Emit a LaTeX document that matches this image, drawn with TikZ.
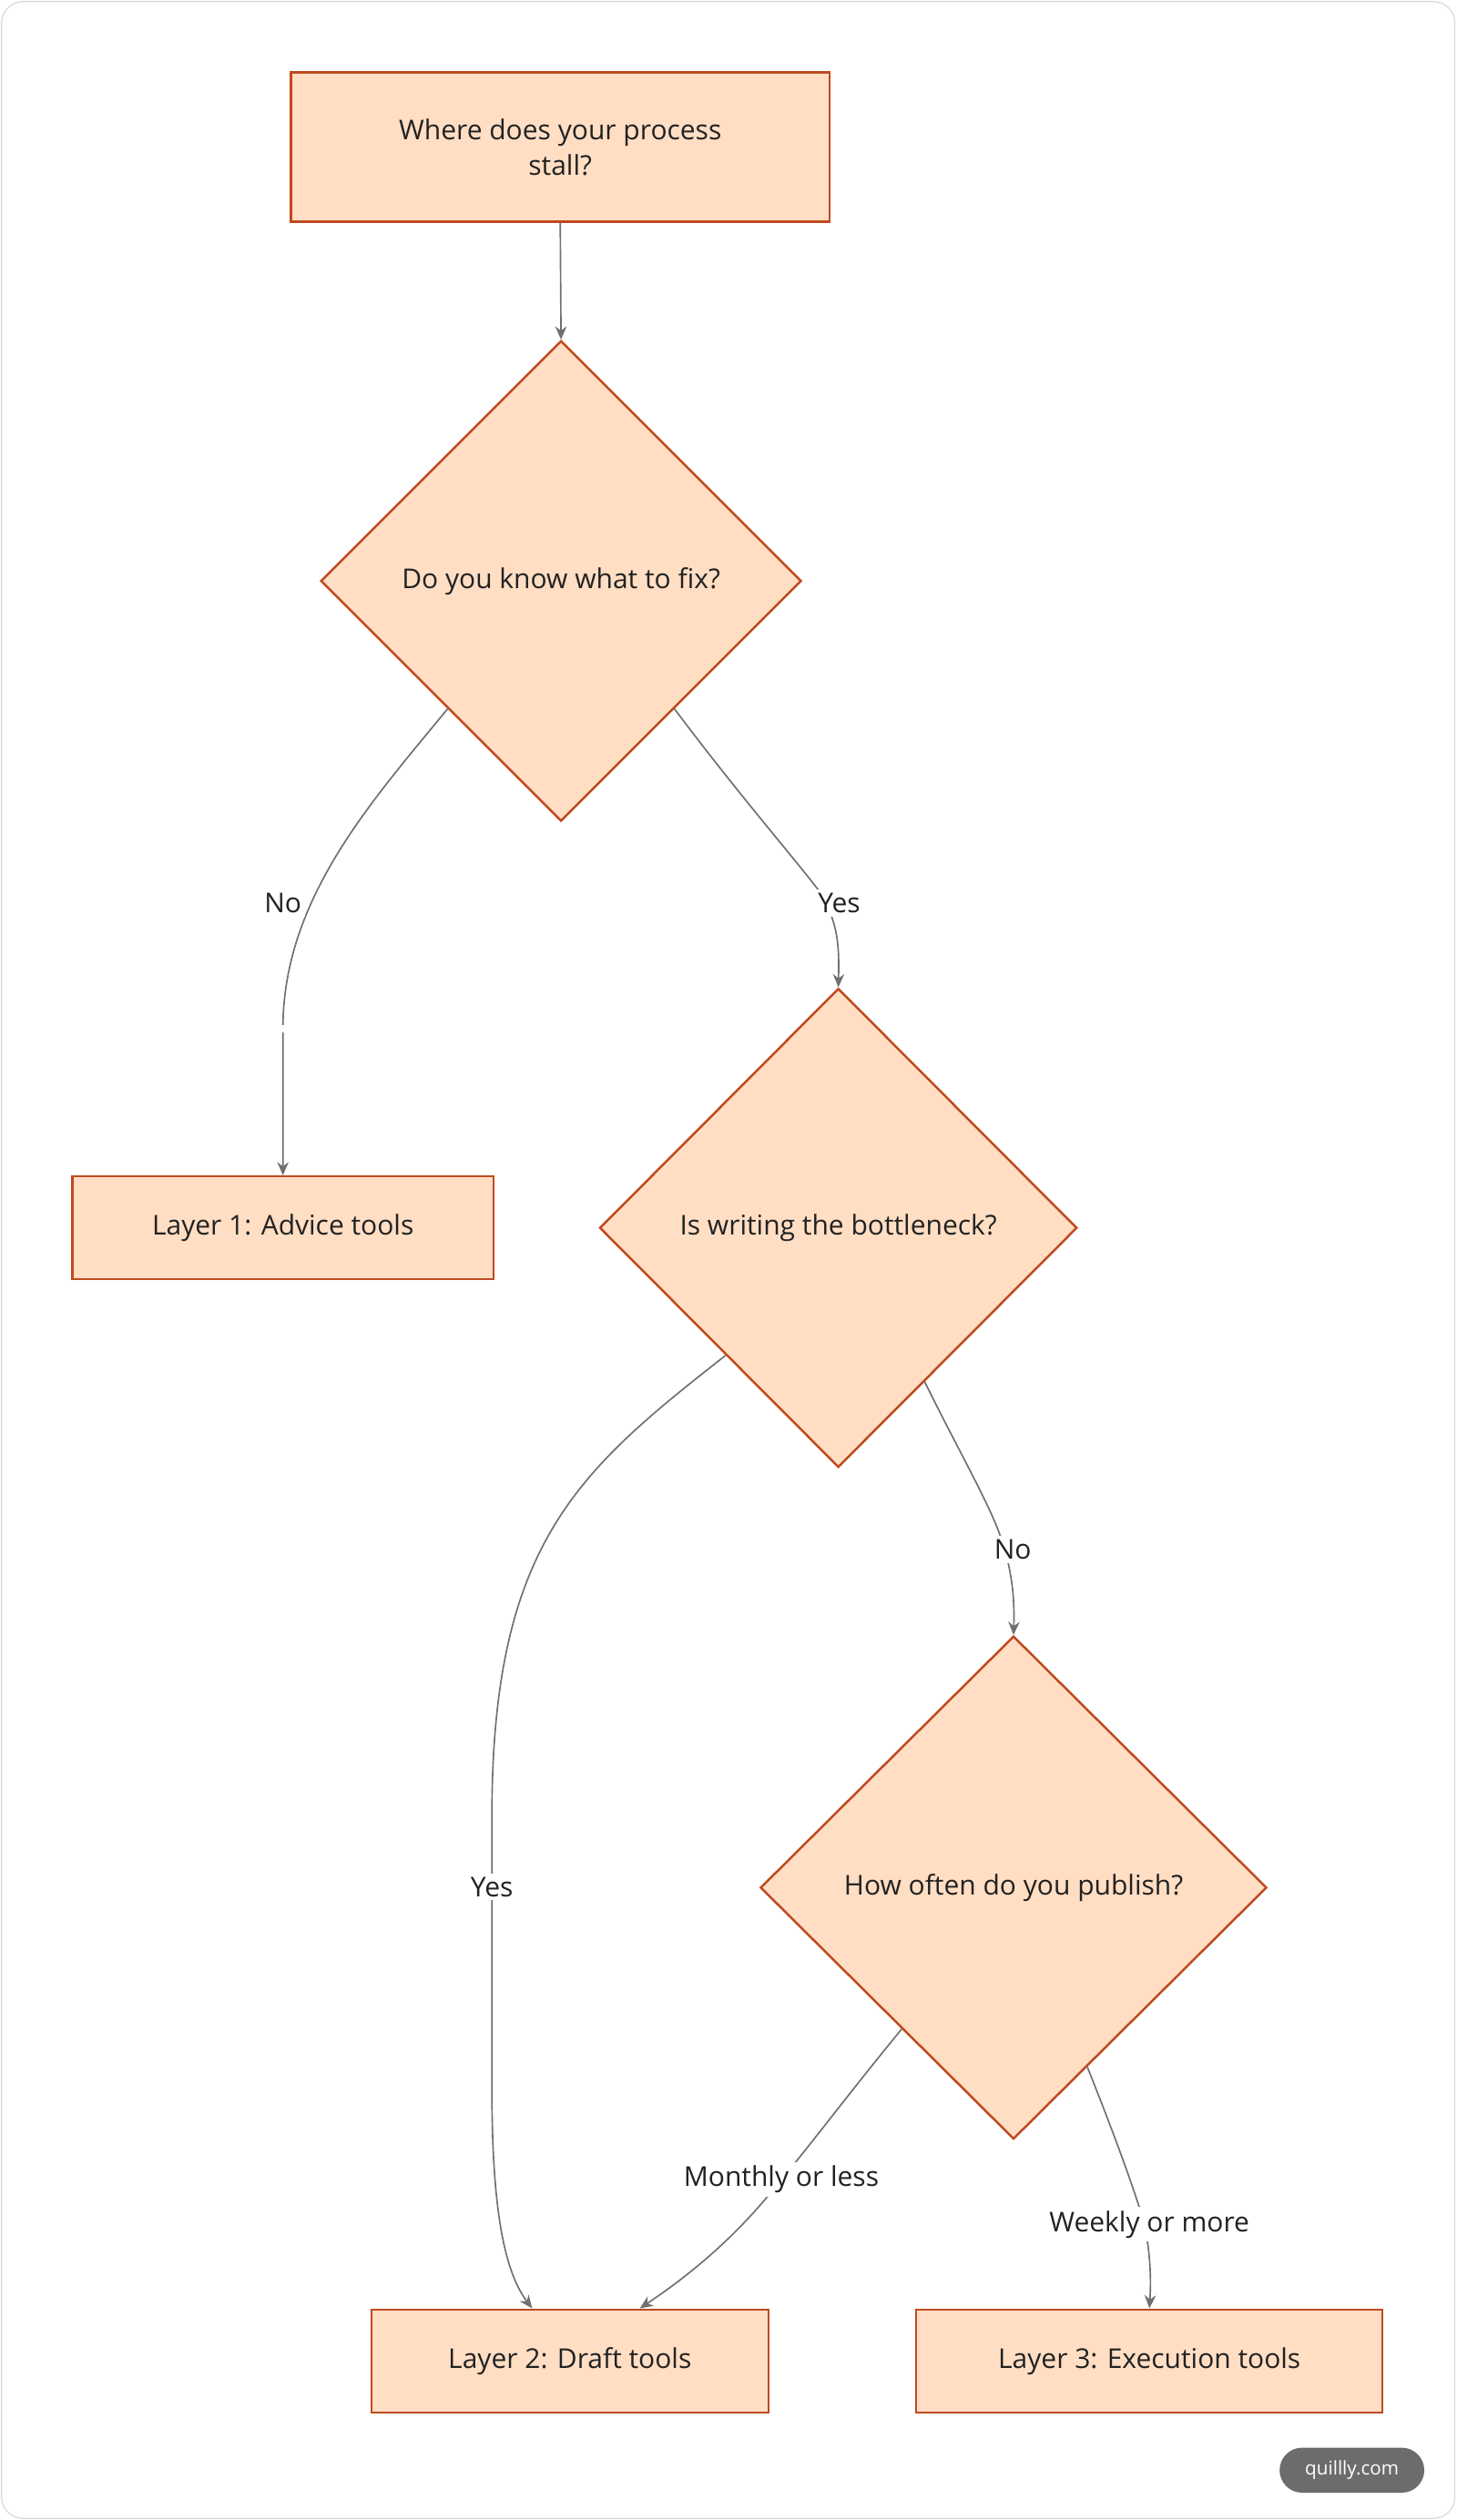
\documentclass[tikz,border=0pt]{standalone}
\usepackage{fontspec}
\setmainfont{Open Sans}
\usetikzlibrary{shapes.geometric,arrows.meta,calc}
\definecolor{nfill}{HTML}{FFDEC4}
\definecolor{nline}{HTML}{BF4A1F}
\definecolor{eline}{HTML}{707070}
\definecolor{txt}{HTML}{222222}
\begin{document}
\begin{tikzpicture}[x=0.03cm,y=-0.03cm,
  font=\fontsize{14.5}{19}\selectfont, text=txt,
  box/.style={draw=nline,fill=nfill,line width=1.2pt,inner sep=0,align=center},
  dia/.style={draw=nline,fill=nfill,line width=1.2pt,diamond,inner sep=0},
  edge/.style={draw=eline,line width=0.8pt,-{Stealth[length=7pt,width=6pt]}},
  lbl/.style={fill=white,inner sep=2pt}]
\draw[draw=gray!30,fill=white,rounded corners=0.4cm,line width=0.6pt] (1,1) rectangle (905,1567);
\useasboundingbox (0,0) rectangle (906,1568);
\node[box,minimum width=335*0.03cm,minimum height=93*0.03cm] (b1) at (348.5,91.5) {Where does your process\\stall?};
\node[dia,minimum width=299*0.03cm,minimum height=299*0.03cm,label=center:{Do you know what to fix?}] (d1) at (349,361.5) {};
\node[box,minimum width=262*0.03cm,minimum height=64*0.03cm] (l1) at (176,764) {Layer 1: Advice tools};
\node[dia,minimum width=297*0.03cm,minimum height=298*0.03cm,label=center:{Is writing the bottleneck?}] (d2) at (521.5,764) {};
\node[dia,minimum width=315*0.03cm,minimum height=313*0.03cm,label=center:{How often do you publish?}] (d3) at (630.5,1174.5) {};
\node[box,minimum width=247*0.03cm,minimum height=64*0.03cm] (l2) at (354.5,1469) {Layer 2: Draft tools};
\node[box,minimum width=290*0.03cm,minimum height=64*0.03cm] (l3) at (715,1469) {Layer 3: Execution tools};
\node[fill=gray!85!black,text=white,rounded corners=0.42cm,minimum width=90*0.03cm,minimum height=28*0.03cm,inner sep=0,font=\fontsize{10}{12}\selectfont] (wm) at (841,1537) {quillly.com};

\draw[edge] (b1.south) -- (d1.north);
\coordinate (s1) at ($(d1.south)!0.47!(d1.west)$);
\draw[edge] (s1) .. controls (230,500) and (176,560) .. (176,640) -- (l1.north) node[pos=0,lbl] {} ;
\node[lbl] (n1) at (176,562) {No};
\coordinate (s2) at ($(d1.south)!0.47!(d1.east)$);
\draw[edge] (s2) .. controls (460,495) and (495,535) .. (510,555) .. controls (522,575) and (522,590) .. (d2.north);
\node[lbl] (y1) at (522,562) {Yes};
\coordinate (s3) at ($(d2.south)!0.47!(d2.west)$);
\draw[edge] (s3) .. controls (360,915) and (306,960) .. (306,1130) -- (306,1300) .. controls (306,1380) and (315,1415) .. (l2.north-|331,0);
\node[lbl] (y2) at (306,1174) {Yes};
\coordinate (s4) at ($(d2.south)!0.36!(d2.east)$);
\draw[edge] (s4) .. controls (595,900) and (615,935) .. (622,955) .. controls (631,980) and (631,1000) .. (d3.north);
\node[lbl] (n2) at (630,964) {No};
\coordinate (s5) at ($(d3.south)!0.44!(d3.west)$);
\draw[edge] (s5) .. controls (530,1300) and (500,1340) .. (486,1356) .. controls (460,1390) and (430,1415) .. (l2.north-|398,0);
\node[lbl] (m1) at (486,1356) {Monthly or less};
\coordinate (s6) at ($(d3.south)!0.29!(d3.east)$);
\draw[edge] (s6) .. controls (690,1320) and (705,1360) .. (712,1384) .. controls (716,1405) and (716,1420) .. (l3.north);
\node[lbl] (w1) at (715,1384) {Weekly or more};
\end{tikzpicture}
\end{document}
